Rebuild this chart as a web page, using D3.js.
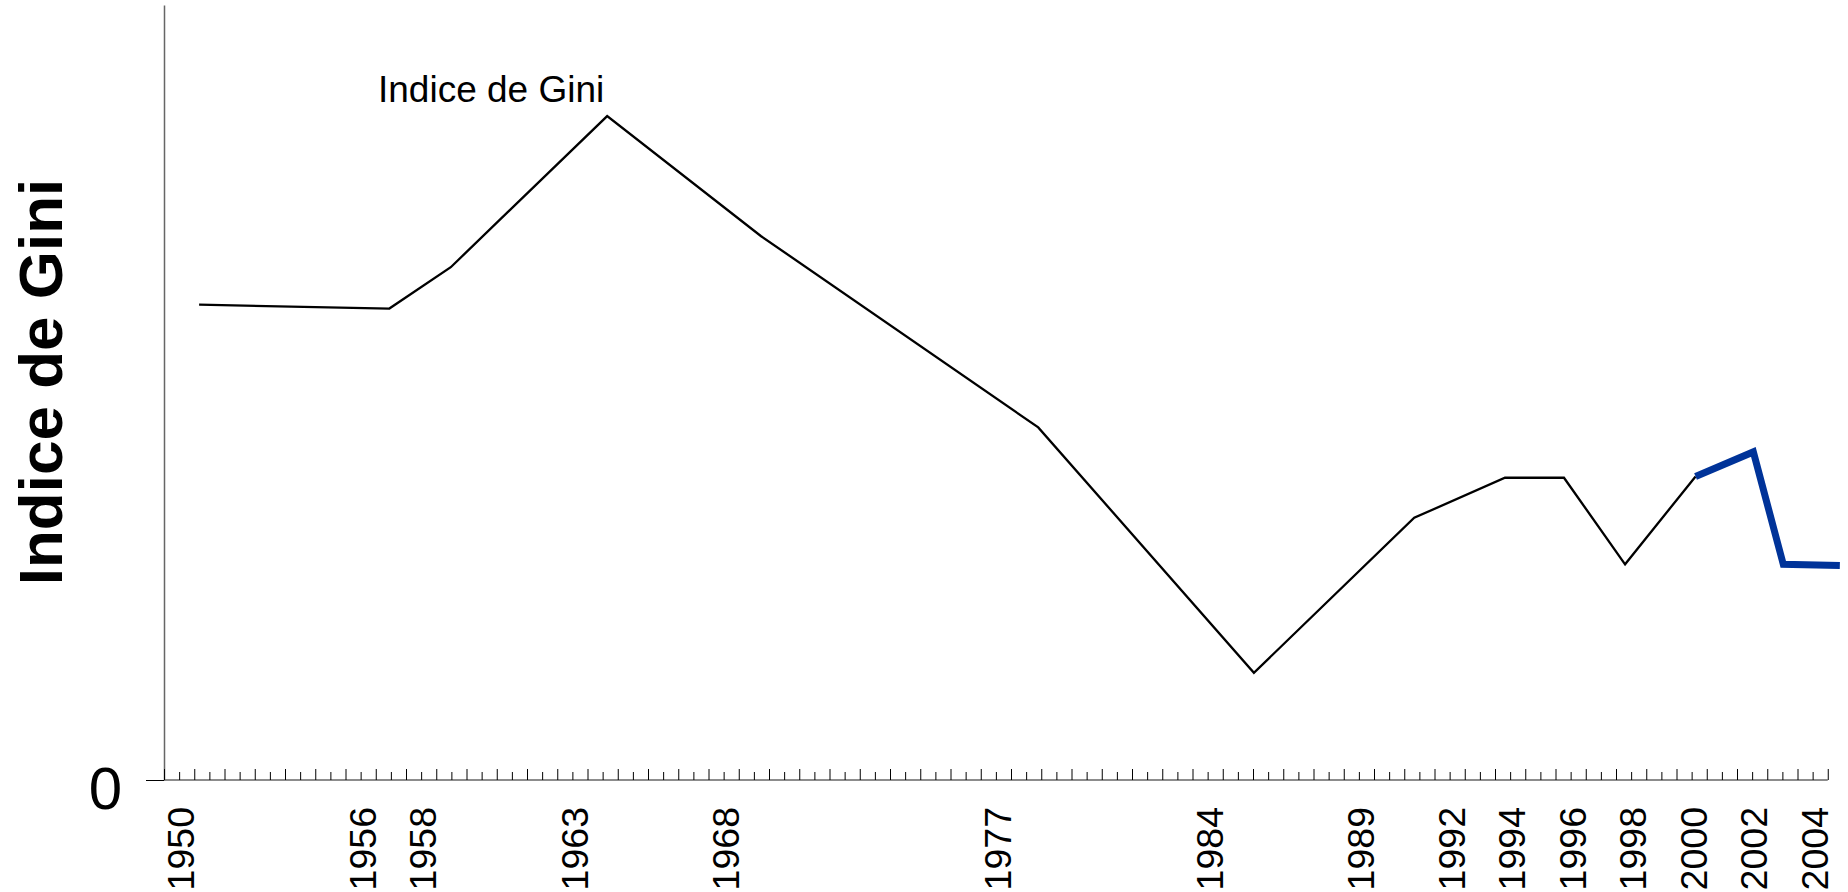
<!DOCTYPE html>
<html>
<head>
<meta charset="utf-8">
<script src="https://cdn.jsdelivr.net/npm/d3@7"></script>
<style>
	body { margin: 0; background: #fff; }
	svg { display: block; font-family: 'Liberation Sans', Arial, sans-serif; }
</style>
</head>
<body>
<svg id="chart" width="1848" height="892"></svg>
<script>
	// years shown under the axis
	let labelYears = [1950, 1956, 1958, 1963, 1968, 1977, 1984, 1989, 1992, 1994, 1996, 1998, 2000, 2002, 2004];

	// black series
	let years = [1950.66, 1956.95, 1958.98, 1964.15, 1969.24, 1978.40, 1985.53, 1990.83, 1993.83, 1995.78, 1997.80, 2000.13];
	let gini = [0.368, 0.365, 0.397, 0.514, 0.421, 0.273, 0.083, 0.203, 0.234, 0.234, 0.167, 0.235];

	// blue series (last years)
	let recentYears = [2000.13, 2002.04, 2003.03, 2004.90];
	let recentGini = [0.235, 0.254, 0.167, 0.166];

	let svg = d3.select('#chart');

	let x = d3.scaleLinear().domain([1949.5, 2004.5]).range([164, 1827.75]);
	let y = d3.scaleLinear().domain([0, 0.6]).range([780, 5]);

	// y axis: plain line with a single 0 tick
	let yAxis = svg.append('g')
		.attr('transform', 'translate(' + x(1949.5) + ',0)')
		.call(d3.axisLeft(y).tickValues([0]).tickFormat(d3.format('d')).tickSize(18).tickPadding(24).tickSizeOuter(0));
	yAxis.selectAll('path, line').attr('stroke', '#666').attr('stroke-width', 1.5);
	yAxis.selectAll('text')
		.attr('font-size', 60)
		.attr('font-family', null)
		.attr('fill', '#000')
		.attr('dy', '0.47em');

	// x axis line
	svg.append('line')
		.attr('x1', x(1949.5))
		.attr('x2', x(2004.5))
		.attr('y1', y(0))
		.attr('y2', y(0))
		.attr('stroke', '#666')
		.attr('stroke-width', 1.5);

	// major ticks on year boundaries, minor ticks on year centres
	let major = svg.append('g')
		.attr('transform', 'translate(0,' + y(0) + ')')
		.call(d3.axisBottom(x).tickValues(d3.range(1949.5, 2005)).tickSize(-11).tickFormat(''));
	major.select('.domain').remove();

	let minor = svg.append('g')
		.attr('transform', 'translate(0,' + y(0) + ')')
		.call(d3.axisBottom(x).tickValues(d3.range(1950, 2005)).tickSize(-8).tickFormat(''));
	minor.select('.domain').remove();

	svg.selectAll('.tick line').attr('stroke', '#000').attr('stroke-width', 1);

	// rotated year labels
	svg.append('g')
		.selectAll('text')
		.data(labelYears)
		.enter().append('text')
		.attr('transform', (d) => { return 'translate(' + (x(d) + 2) + ',807) rotate(-90)'; })
		.attr('text-anchor', 'end')
		.attr('dy', '0.35em')
		.attr('font-size', 37.5)
		.text((d) => { return d; });

	let line = d3.line()
		.x((d) => { return x(d[0]); })
		.y((d) => { return y(d[1]); });

	svg.append('path')
		.datum(d3.zip(years, gini))
		.attr('d', line)
		.attr('fill', 'none')
		.attr('stroke', '#000')
		.attr('stroke-width', 2.3)
		.attr('stroke-linejoin', 'miter');

	svg.append('path')
		.datum(d3.zip(recentYears, recentGini))
		.attr('d', line)
		.attr('fill', 'none')
		.attr('stroke', '#003399')
		.attr('stroke-width', 7)
		.attr('stroke-linejoin', 'miter');

	// series name inside the plot
	svg.append('text')
		.attr('x', 378)
		.attr('y', 102)
		.attr('font-size', 37)
		.text('Indice de Gini');

	// axis title
	svg.append('text')
		.attr('transform', 'translate(62,382) rotate(-90)')
		.attr('text-anchor', 'middle')
		.attr('font-size', 62)
		.attr('font-weight', 'bold')
		.text('Indice de Gini');
</script>
</body>
</html>
